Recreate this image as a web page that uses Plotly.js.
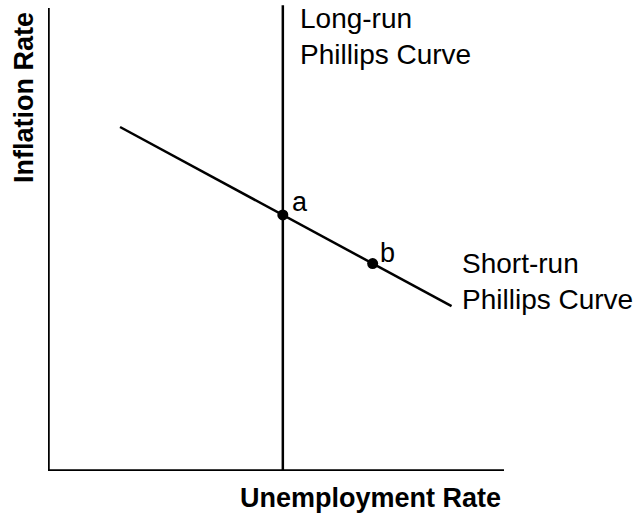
<!DOCTYPE html>
<html>
<head>
<meta charset="utf-8">
<script src="https://cdn.plot.ly/plotly-3.0.1.min.js"></script>
<style>html,body{margin:0;padding:0;background:#fff;}#chart{width:637px;height:515px;}</style>
</head>
<body>
<div id="chart"></div>
<script>
// ---- data (arbitrary index units, 0..100 along each drawn axis) ----
const axisCornerX = [0, 0, 100];
const axisCornerY = [100, 0, 0];
const lrpcX = [51.5, 51.5];
const lrpcY = [0, 100.6];
const srpcX = [15.8, 88.5];
const srpcY = [74.3, 35.6];
const pointX = [51.5, 71.2];
const pointY = [55.3, 44.8];
const pointLabels = ['a', 'b'];
const lrpcLabel = ['Long-run', 'Phillips Curve'];
const srpcLabel = ['Short-run', 'Phillips Curve'];
const xTitle = 'Unemployment Rate';
const yTitle = 'Inflation Rate';

const FONT = 'Liberation Sans, Arial, sans-serif';

const traces = [
  {x: axisCornerX, y: axisCornerY, mode: 'lines', line: {color: '#000', width: 3.5}, hoverinfo: 'skip'},
  {x: lrpcX, y: lrpcY, mode: 'lines', line: {color: '#000', width: 2.5}, hoverinfo: 'skip'},
  {x: srpcX, y: srpcY, mode: 'lines', line: {color: '#000', width: 2.5}, hoverinfo: 'skip'},
  {x: pointX, y: pointY, mode: 'markers', marker: {color: '#000', size: 11}, hoverinfo: 'skip'}
];

const txt = (t, x, y, size, opts) => Object.assign({
  text: t, x: x, y: y, xref: 'x', yref: 'y', showarrow: false,
  xanchor: 'left', yanchor: 'middle', align: 'left',
  font: {family: FONT, size: size, color: '#000'}
}, opts || {});

const annotations = [
  txt(pointLabels[0], 53.0, 58.0, 27),
  txt(pointLabels[1], 72.4, 47.0, 27),
  txt(lrpcLabel.join('<br>'), 54.8, 93.9, 28),
  txt(srpcLabel.join('<br>'), 90.35, 41.0, 28),
  {text: '<b>' + yTitle + '</b>', xref: 'paper', yref: 'paper', x: -0.0416, y: 0.8015,
   xanchor: 'center', yanchor: 'middle', textangle: -90, showarrow: false,
   font: {family: FONT, size: 27, color: '#000'}},
  {text: '<b>' + xTitle + '</b>', xref: 'paper', yref: 'paper', x: 0.5467, y: -0.059,
   xanchor: 'center', yanchor: 'middle', showarrow: false,
   font: {family: FONT, size: 27, color: '#000'}}
];

const layout = {
  width: 637, height: 515,
  margin: {l: 48, r: 0, t: 5, b: 44, pad: 0},
  paper_bgcolor: '#fff', plot_bgcolor: '#fff',
  showlegend: false,
  xaxis: {range: [0, 129.17], visible: false, fixedrange: true},
  yaxis: {range: [0, 100.65], visible: false, fixedrange: true},
  annotations: annotations
};

Plotly.newPlot('chart', traces, layout, {staticPlot: true, displayModeBar: false});
</script>
</body>
</html>
